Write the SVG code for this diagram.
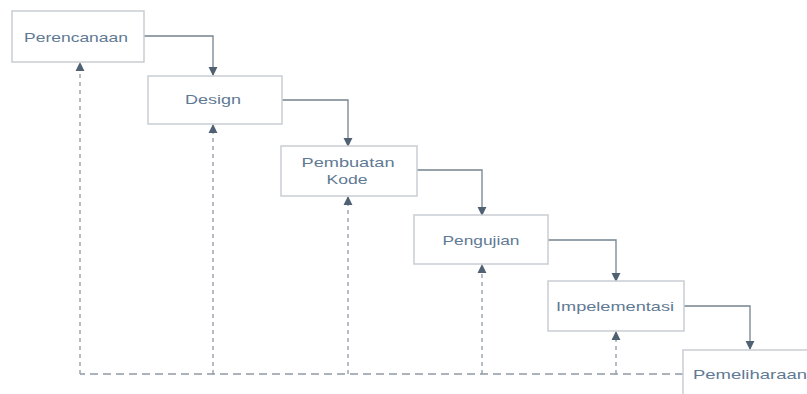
<svg xmlns="http://www.w3.org/2000/svg" width="807" height="394" viewBox="0 0 807 394">
<defs>
<style>
.box{fill:#ffffff;stroke:#c9cdd2;stroke-width:1.5}
.lbl{font-family:"Liberation Sans",Arial,sans-serif;font-size:13px;fill:#5f7a94;text-anchor:middle}
.flow{fill:none;stroke:#76838f;stroke-width:1.3}
.back{fill:none;stroke:#8e99a5;stroke-width:1.3;stroke-dasharray:4,4}
.backh{fill:none;stroke:#8e99a5;stroke-width:1.3;stroke-dasharray:8,5}
</style>
<marker id="ah" viewBox="0 0 10 10" refX="9" refY="5" markerWidth="7" markerHeight="7" orient="auto">
<path d="M0,0 L10,5 L0,10 z" fill="#4f6172"/>
</marker>
</defs>
<rect width="807" height="394" fill="#ffffff"/>
<g id="connectors">
<path class="flow" d="M144,36 H213 V75" marker-end="url(#ah)"/>
<path class="flow" d="M282,100 H348 V146" marker-end="url(#ah)"/>
<path class="flow" d="M417,170 H482 V215" marker-end="url(#ah)"/>
<path class="flow" d="M548,240 H616 V281" marker-end="url(#ah)"/>
<path class="flow" d="M684,306 H750 V349" marker-end="url(#ah)"/>
<path class="backh" d="M683,374 H80"/>
<path class="back" d="M80,374 V63" marker-end="url(#ah)"/>
<path class="back" d="M213,374 V125" marker-end="url(#ah)"/>
<path class="back" d="M348,374 V197" marker-end="url(#ah)"/>
<path class="back" d="M482,374 V265" marker-end="url(#ah)"/>
<path class="back" d="M616,374 V332" marker-end="url(#ah)"/>
</g>
<g id="perencanaan"><rect class="box" x="12" y="11" width="132" height="51"/><text class="lbl" x="76" y="42" textLength="104" lengthAdjust="spacingAndGlyphs">Perencanaan</text></g>
<g id="design"><rect class="box" x="148" y="76" width="134" height="48"/><text class="lbl" x="213" y="104" textLength="56" lengthAdjust="spacingAndGlyphs">Design</text></g>
<g id="pembuatan-kode"><rect class="box" x="281" y="146" width="136" height="50"/><text class="lbl" x="348" y="167" textLength="93" lengthAdjust="spacingAndGlyphs">Pembuatan</text><text class="lbl" x="347" y="184" textLength="41" lengthAdjust="spacingAndGlyphs">Kode</text></g>
<g id="pengujian"><rect class="box" x="414" y="215" width="134" height="49"/><text class="lbl" x="481" y="245" textLength="77" lengthAdjust="spacingAndGlyphs">Pengujian</text></g>
<g id="impelementasi"><rect class="box" x="548" y="281" width="136" height="50"/><text class="lbl" x="615" y="311" textLength="118" lengthAdjust="spacingAndGlyphs">Impelementasi</text></g>
<g id="pemeliharaan"><rect class="box" x="683" y="350" width="140" height="60"/><text class="lbl" x="750" y="379" textLength="114" lengthAdjust="spacingAndGlyphs">Pemeliharaan</text></g>
</svg>
